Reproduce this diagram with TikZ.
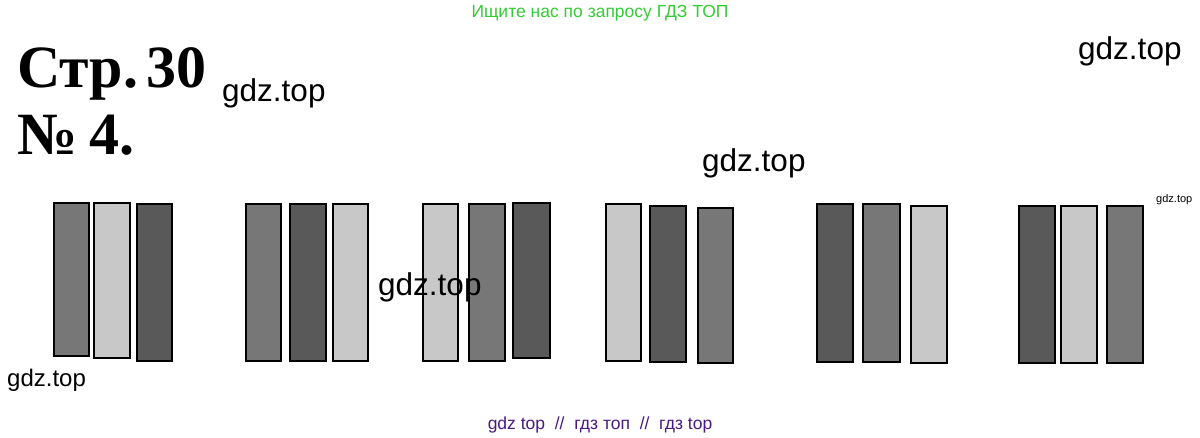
\documentclass[tikz,border=0pt]{standalone}
\usepackage{fontspec}
\setmainfont{Liberation Sans}
\newfontfamily\titlefont{Liberation Serif}
\definecolor{dk}{HTML}{595959}
\definecolor{md}{HTML}{777777}
\definecolor{lt}{HTML}{C8C8C8}
\definecolor{grn}{RGB}{51,204,51}
\definecolor{prp}{HTML}{4A1A80}
\tikzset{
  bar/.style={draw=black, line width=2pt},
  txt/.style={inner sep=0pt, anchor=base west},
  wm/.style={txt, font=\fontsize{31.5}{36}\selectfont},
  ttl/.style={txt, font=\titlefont\bfseries\fontsize{60}{66}\selectfont},
}
\begin{document}
\begin{tikzpicture}[x=1pt,y=-1pt]
\useasboundingbox (0,0) rectangle (1200,438);
% header
\node[inner sep=0pt, anchor=base, text=grn, font=\fontsize{17.5}{20}\selectfont] (hdr) at (600,18) {Ищите нас по запросу ГДЗ ТОП};
% titles
\node[ttl] (t1) at (17,88) {Стр.\hspace{8pt}30};
\node[ttl] (t2) at (17,155) {№\hspace{12pt}4.};
% bars: group 1
\draw[bar, fill=md] (54,203) rectangle (89,356);
\draw[bar, fill=lt] (94,203) rectangle (130,358);
\draw[bar, fill=dk] (137,204) rectangle (172,361);
% group 2
\draw[bar, fill=md] (246,204) rectangle (281,361);
\draw[bar, fill=dk] (290,204) rectangle (326,361);
\draw[bar, fill=lt] (333,204) rectangle (368,361);
% group 3
\draw[bar, fill=lt] (423,204) rectangle (458,361);
\draw[bar, fill=md] (469,204) rectangle (505,361);
\draw[bar, fill=dk] (513,203) rectangle (550,358);
% group 4
\draw[bar, fill=lt] (606,204) rectangle (641,361);
\draw[bar, fill=dk] (650,206) rectangle (686,362);
\draw[bar, fill=md] (698,208) rectangle (733,363);
% group 5
\draw[bar, fill=dk] (817,204) rectangle (853,362);
\draw[bar, fill=md] (863,204) rectangle (900,362);
\draw[bar, fill=lt] (911,206) rectangle (947,363);
% group 6
\draw[bar, fill=dk] (1019,206) rectangle (1055,363);
\draw[bar, fill=lt] (1061,206) rectangle (1097,363);
\draw[bar, fill=md] (1107,206) rectangle (1143,363);
% watermarks
\node[wm] (w1) at (222,102) {gdz.top};
\node[wm] (w2) at (1078,60) {gdz.top};
\node[wm] (w3) at (702,172) {gdz.top};
\node[wm] (w4) at (378,296) {gdz.top};
\node[txt, font=\fontsize{24}{28}\selectfont] (w5) at (7,386) {gdz.top};
\node[txt, font=\fontsize{11}{13}\selectfont] (w6) at (1156,203) {gdz.top};
% footer
\node[inner sep=0pt, anchor=base, text=prp, font=\fontsize{17.5}{20}\selectfont] (ftr) at (600,429) {gdz top~~//~~гдз топ~~//~~гдз top};
\end{tikzpicture}
\end{document}
